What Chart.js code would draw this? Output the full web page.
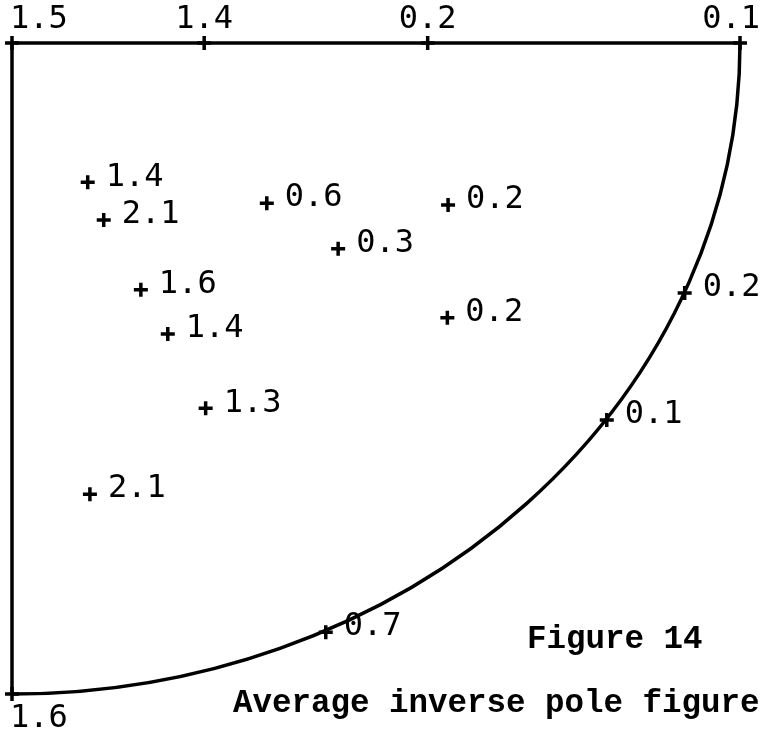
<!DOCTYPE html>
<html>
<head>
<meta charset="utf-8">
<script src="https://cdn.jsdelivr.net/npm/chart.js@4/dist/chart.umd.min.js"></script>
<style>
  html, body { margin: 0; padding: 0; background: #fff; }
  #wrap { width: 762px; height: 732px; }
</style>
</head>
<body>
<div id="wrap"><canvas id="c" width="762" height="732"></canvas></div>
<script>
// Interior measurement points (normalized position in the stereographic triangle; x: 0 left -> 1 right, y: 0 top -> 1 bottom)
const pointX = [0.104, 0.126, 0.350, 0.448, 0.599, 0.177, 0.214, 0.598, 0.266, 0.107, 0.924, 0.817, 0.431];
const pointY = [0.214, 0.272, 0.246, 0.316, 0.249, 0.379, 0.447, 0.422, 0.561, 0.693, 0.384, 0.579, 0.905];
const pointLabels = ['1.4', '2.1', '0.6', '0.3', '0.2', '1.6', '1.4', '0.2', '1.3', '2.1', '0.2', '0.1', '0.7'];

// Points on the straight edges (top edge and the lower-left corner)
const edgeX = [0, 0.264, 0.571, 1, 0];
const edgeY = [0, 0, 0, 0, 1];
const edgeLabels = ['1.5', '1.4', '0.2', '0.1', '1.6'];

const figureTitle = 'Figure 14';
const figureCaption = 'Average inverse pole figure';

const labelFont = '32px "DejaVu Sans Mono", monospace';

const boundaryPlugin = {
  id: 'boundary',
  beforeDatasetsDraw(chart) {
    const { ctx, scales } = chart;
    const xs = scales.x, ys = scales.y;
    const x0 = xs.getPixelForValue(0), x1 = xs.getPixelForValue(1);
    const y0 = ys.getPixelForValue(0), y1 = ys.getPixelForValue(1);
    ctx.save();
    ctx.strokeStyle = '#000';
    ctx.lineWidth = 3.5;
    ctx.lineCap = 'round';
    ctx.beginPath();
    ctx.moveTo(x1, y0);
    ctx.lineTo(x0, y0);
    ctx.lineTo(x0, y1);
    ctx.stroke();
    ctx.beginPath();
    ctx.ellipse(x0, y0, x1 - x0, y1 - y0, 0, 0, Math.PI / 2);
    ctx.stroke();
    ctx.restore();
  }
};

const labelPlugin = {
  id: 'pointLabels',
  afterDatasetsDraw(chart) {
    const { ctx } = chart;
    const W = chart.width;
    ctx.save();
    ctx.fillStyle = '#000';
    ctx.font = labelFont;
    // interior labels: to the right of each cross
    chart.getDatasetMeta(0).data.forEach((el, i) => {
      ctx.textAlign = 'left';
      ctx.textBaseline = 'middle';
      ctx.fillText(pointLabels[i], el.x + 18, el.y - 5);
    });
    // edge labels: above for the top edge, below for the bottom corner
    chart.getDatasetMeta(1).data.forEach((el, i) => {
      const txt = edgeLabels[i];
      const w = ctx.measureText(txt).width;
      let left = el.x - w / 2;
      left = Math.max(10, Math.min(W - 2 - w, left));
      ctx.textAlign = 'left';
      if (edgeY[i] === 0) {
        ctx.textBaseline = 'alphabetic';
        ctx.fillText(txt, left, el.y - 15);
      } else {
        ctx.textBaseline = 'top';
        ctx.fillText(txt, left, el.y + 9);
      }
    });
    // caption
    ctx.font = 'bold 32.5px "Liberation Mono", monospace';
    ctx.textAlign = 'left';
    ctx.textBaseline = 'alphabetic';
    ctx.fillText(figureTitle, 527, 648);
    ctx.fillText(figureCaption, 233, 712);
    ctx.restore();
  }
};

const crossStyle = {
  pointStyle: 'cross',
  pointRadius: 7,
  pointHoverRadius: 7,
  borderColor: '#000',
  backgroundColor: '#000',
  pointBorderWidth: 3.5,
  showLine: false,
  clip: false
};

new Chart(document.getElementById('c'), {
  type: 'scatter',
  data: {
    datasets: [
      Object.assign({ label: 'points', data: pointX.map((x, i) => ({ x, y: pointY[i] })) }, crossStyle),
      Object.assign({ label: 'edge', data: edgeX.map((x, i) => ({ x, y: edgeY[i] })) }, crossStyle)
    ]
  },
  options: {
    responsive: false,
    animation: false,
    layout: { padding: { left: 12, top: 43, right: 22, bottom: 38 } },
    scales: {
      x: { type: 'linear', min: 0, max: 1, display: false },
      y: { type: 'linear', min: 0, max: 1, reverse: true, display: false }
    },
    plugins: {
      legend: { display: false },
      tooltip: { enabled: false },
      title: { display: false }
    }
  },
  plugins: [boundaryPlugin, labelPlugin]
});
</script>
</body>
</html>
